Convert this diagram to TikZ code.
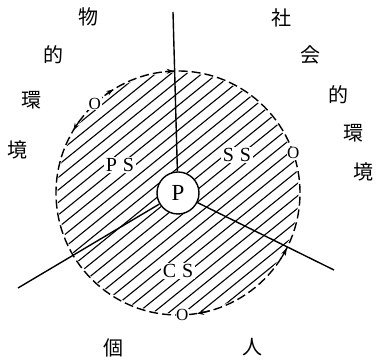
\documentclass[tikz,border=0pt]{standalone}
\usepackage{fontspec}
\setmainfont{Liberation Serif}
\newfontfamily\cjk{Noto Sans CJK JP}
\usetikzlibrary{calc,arrows.meta}
\begin{document}
\begin{tikzpicture}[x=1pt,y=1pt,
  kanji/.style={font=\cjk\fontsize{20}{20}\selectfont, inner sep=0pt},
  zone/.style={font=\fontsize{20}{20}\selectfont, fill=white, inner sep=1.5pt},
  origin/.style={font=\fontsize{17}{17}\selectfont, fill=white, inner sep=0.6pt},
  rim/.style={line width=1.4pt, dash pattern=on 9pt off 4pt},
  hatch/.style={line width=1.1pt},
  spoke/.style={line width=1.4pt},
  tip/.style={line width=1.3pt, -{Stealth[length=7pt,width=5pt]}}
]
\useasboundingbox (0,0) rectangle (376,361);
\coordinate (C) at (178,168);
\def\R{122}

% diagonal hatching inside the field
\begin{scope}
  \clip (C) circle (120.5);
  \foreach \t in {-126,-116.3,...,126}
    \draw[hatch] ($(C)+(129:\t)+(219:130)$) -- ++(39:260);
\end{scope}

% dashed boundary of the field
\draw[rim] (C) circle (\R);

% direction marks on the boundary
\draw[tip] ($(C)+(127:\R)$) arc[start angle=127, end angle=122, radius=\R];
\draw[tip] ($(C)+(96:\R)$) arc[start angle=96, end angle=92, radius=\R];
\draw[tip] ($(C)+(144:\R)$) arc[start angle=144, end angle=149, radius=\R];
\draw[tip] ($(C)+(285:\R)$) arc[start angle=285, end angle=279, radius=\R];
\draw[tip] ($(C)+(327:\R)$) arc[start angle=327, end angle=333, radius=\R];

% person at the centre and the three dividing spokes
\node[circle, draw, fill=white, line width=1.4pt, minimum size=42pt,
      inner sep=0pt, font=\fontsize{23}{23}\selectfont] (P) at (C) {P};
\coordinate (top) at (173,349);
\coordinate (ll) at (18,73);
\coordinate (lr) at (334,91);
\draw[spoke] (P) -- (top);
\draw[spoke] (P) -- (ll);
\draw[spoke] (P) -- (lr);

% sectors
\node[zone] (ps) at (120,196) {P\hspace{6pt}S};
\node[zone] (ss) at (237,206) {S\hspace{6pt}S};
\node[zone] (cs) at (178,90) {C\hspace{6pt}S};

% origins on the boundary
\node[origin] (o1) at ($(C)+(133:\R)$) {O};
\node[origin] (o2) at ($(C)+(19:\R)$) {O};
\node[origin] (o3) at ($(C)+(272:\R)$) {O};

% environments
\node[kanji] (a1) at (88,344) {物};
\node[kanji] (a2) at (54,306) {的};
\node[kanji] (a3) at (32,261) {環};
\node[kanji] (a4) at (18,211) {境};
\node[kanji] (b1) at (281,343) {社};
\node[kanji] (b2) at (311,306) {会};
\node[kanji] (b3) at (339,266) {的};
\node[kanji] (b4) at (354,228) {環};
\node[kanji] (b5) at (363,189) {境};
\node[kanji] (c1) at (113,13) {個};
\node[kanji] (c2) at (253,14) {人};
\end{tikzpicture}
\end{document}
